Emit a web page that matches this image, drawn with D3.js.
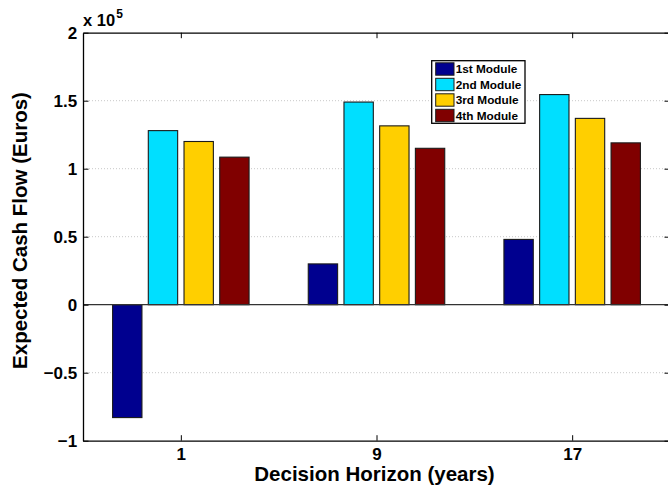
<!DOCTYPE html>
<html>
<head>
<meta charset="utf-8">
<script src="https://cdn.jsdelivr.net/npm/d3@7"></script>
<style>
  html, body { margin: 0; padding: 0; background: #fff; }
  svg { display: block; font-family: "Liberation Sans", Arial, Helvetica, sans-serif; font-weight: bold; }
</style>
</head>
<body>
<svg id="chart" width="668" height="496"></svg>
<script>
// Decision horizons (years) on the x axis
const horizons = [1, 9, 17];
// Module names (series)
const modules = ["1st Module", "2nd Module", "3rd Module", "4th Module"];
// Expected cash flow per module, in units of 10^5 euros
const module1 = [-0.83, 0.30, 0.48];
const module2 = [1.28, 1.49, 1.545];
const module3 = [1.20, 1.315, 1.37];
const module4 = [1.085, 1.15, 1.19];
const seriesValues = [module1, module2, module3, module4];
const yTicks = [-1, -0.5, 0, 0.5, 1, 1.5, 2];
const colors = ["#00008F", "#00DFFF", "#FFCF00", "#800000"];

const svg = d3.select("#chart");
const plot = { left: 83, top: 32.7, right: 670, bottom: 440.7 };

const x = d3.scaleLinear().domain([-3, 21]).range([plot.left, plot.right]);
const y = d3.scaleLinear().domain([-1, 2]).range([plot.bottom, plot.top]);

// grouped bar layout in x-axis units
const barStep = 1.46, barWidth = 1.2;
const offset = i => (i - (modules.length - 1) / 2) * barStep;

// dotted horizontal grid
svg.append("g")
  .selectAll("line")
  .data(yTicks.filter(t => t !== -1 && t !== 2 && t !== 0))
  .join("line")
  .attr("x1", plot.left).attr("x2", plot.right)
  .attr("y1", d => y(d)).attr("y2", d => y(d))
  .attr("stroke", "#c8c8c8").attr("stroke-width", 1)
  .attr("stroke-dasharray", "1,2");

// bars
const rows = [];
seriesValues.forEach((vals, si) => {
  vals.forEach((v, gi) => rows.push({ si, h: horizons[gi], v }));
});
svg.append("g")
  .selectAll("rect")
  .data(rows)
  .join("rect")
  .attr("x", d => x(d.h + offset(d.si) - barWidth / 2))
  .attr("width", d => x(d.h + offset(d.si) + barWidth / 2) - x(d.h + offset(d.si) - barWidth / 2))
  .attr("y", d => y(Math.max(0, d.v)))
  .attr("height", d => Math.abs(y(d.v) - y(0)))
  .attr("fill", d => colors[d.si])
  .attr("stroke", "#1a1a1a").attr("stroke-width", 1.1);

// zero baseline
svg.append("line")
  .attr("x1", plot.left).attr("x2", plot.right)
  .attr("y1", y(0)).attr("y2", y(0))
  .attr("stroke", "#333").attr("stroke-width", 1.2);

// axes
const tickLen = 5.5;
const yAxisL = d3.axisLeft(y).tickValues(yTicks).tickSizeInner(-tickLen).tickSizeOuter(0)
  .tickPadding(5.8).tickFormat(d => d === 0 ? "0" : d3.format("")(d).replace("-", "\u2212"));
const gy = svg.append("g").attr("transform", `translate(${plot.left},0)`).call(yAxisL);
const yAxisR = d3.axisRight(y).tickValues(yTicks).tickSizeInner(-tickLen).tickSizeOuter(0).tickFormat("");
const gyr = svg.append("g").attr("transform", `translate(${plot.right},0)`).call(yAxisR);

const xAxisB = d3.axisBottom(x).tickValues(horizons).tickSizeInner(-tickLen).tickSizeOuter(0)
  .tickPadding(6.6).tickFormat(d3.format("d"));
const gx = svg.append("g").attr("transform", `translate(0,${plot.bottom})`).call(xAxisB);
const xAxisT = d3.axisTop(x).tickValues(horizons).tickSizeInner(-tickLen).tickSizeOuter(0).tickFormat("");
const gxt = svg.append("g").attr("transform", `translate(0,${plot.top})`).call(xAxisT);

[gy, gyr, gx, gxt].forEach(g => {
  g.select(".domain").attr("stroke", "#000").attr("stroke-width", 1.3);
  g.selectAll(".tick line").attr("stroke", "#000").attr("stroke-width", 1);
  g.selectAll("text").attr("fill", "#000").style("font-size", "17px")
    .style("font-family", "'Liberation Sans', Arial, sans-serif").style("font-weight", "bold");
});
gx.selectAll("text").attr("dy", "0.72em");

// exponent label
const expo = svg.append("text").attr("x", plot.left).attr("y", 26)
  .style("font-size", "16.5px").attr("fill", "#000");
expo.append("tspan").text("x 10");
expo.append("tspan").attr("dx", 1).attr("dy", -8).style("font-size", "12px").text("5");

// axis titles
svg.append("text")
  .attr("x", (plot.left + plot.right) / 2 - 2).attr("y", 481)
  .attr("text-anchor", "middle").style("font-size", "20.5px").attr("fill", "#000")
  .text("Decision Horizon (years)");
svg.append("text")
  .attr("transform", `translate(26.5,230.5) rotate(-90)`)
  .attr("text-anchor", "middle").style("font-size", "20.5px").attr("fill", "#000")
  .text("Expected Cash Flow (Euros)");

// legend
const lg = svg.append("g").attr("transform", "translate(431.7,60.7)");
lg.append("rect").attr("width", 93.3).attr("height", 62.6)
  .attr("fill", "#fff").attr("stroke", "#000").attr("stroke-width", 1.3);
const item = lg.selectAll("g.item").data(modules).join("g").attr("class", "item")
  .attr("transform", (d, i) => `translate(0,${8.3 + i * 15.5})`);
item.append("rect").attr("x", 4).attr("y", -6.2).attr("width", 18.3).attr("height", 12.4)
  .attr("fill", (d, i) => colors[i]).attr("stroke", "#1a1a1a").attr("stroke-width", 1);
item.append("text").attr("x", 24).attr("y", 0).attr("dy", "0.36em")
  .style("font-size", "11.8px").attr("fill", "#000").text(d => d);
</script>
</body>
</html>
